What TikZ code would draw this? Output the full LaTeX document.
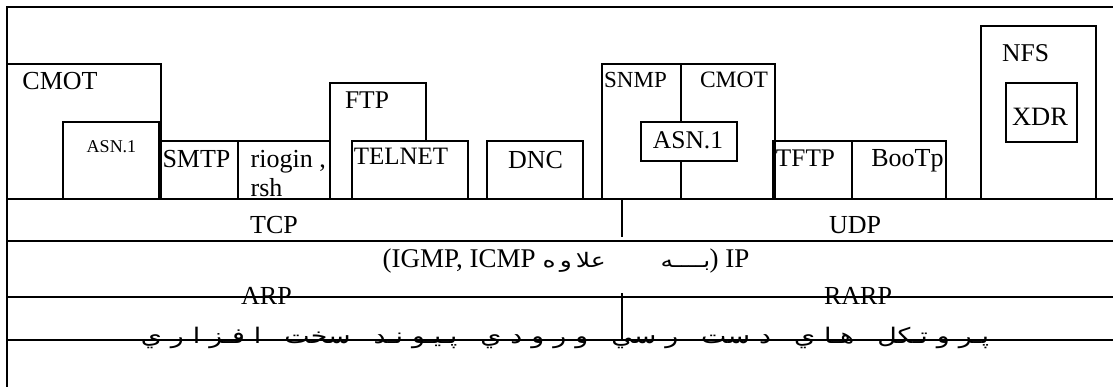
\documentclass[tikz,border=0pt]{standalone}
\usepackage{fontspec}
\setmainfont{Liberation Serif}
\newfontfamily\arabicfont[Script=Arabic,FakeStretch=1.25]{DejaVu Sans}
\TeXXeTstate=1
% gaps used to space out the Persian letters and words
\newcommand{\lgap}{\hspace{9pt}}
\newcommand{\wgap}{\hspace{23pt}}

\begin{document}
\begin{tikzpicture}[x=1pt,y=-1pt,line width=1.3pt,
  layer/.style={draw,line width=1.3pt,outer sep=0pt,inner sep=0pt,anchor=north west},
  lbl/.style={inner sep=0pt,anchor=base,font=\fontsize{#1}{#1}\selectfont},
  fa/.style={inner sep=0pt,anchor=base,font=\arabicfont\fontsize{#1}{#1}\selectfont}]
\useasboundingbox (0,0) rectangle (1113,387);

% outer frame and layer separators
\coordinate (tl) at (7,7);
\coordinate (tr) at (1120,7);
\coordinate (bl) at (7,395);
\draw (tr) -- (tl) -- (bl);
\foreach \yy/\nm in {199/app,241/tcp,297/ip,340/arp}{
  \coordinate (\nm L) at (7,\yy);
  \coordinate (\nm R) at (1120,\yy);
  \draw (\nm L) -- (\nm R);
}

% application layer boxes
\node[layer,minimum width=154,minimum height=135] (cmot) at (7,64) {};
\node[layer,minimum width=96,minimum height=77] (asnA) at (63,122) {};
\node[layer,minimum width=78,minimum height=58] (smtp) at (160,141) {};
\node[layer,minimum width=92,minimum height=58] (rlogin) at (238,141) {};
\node[layer,minimum width=96,minimum height=116] (ftp) at (330,83) {};
\node[layer,fill=white,minimum width=116,minimum height=58] (telnet) at (352,141) {};
\node[layer,minimum width=96,minimum height=58] (dnc) at (487,141) {};
\node[layer,minimum width=173,minimum height=135] (snmp) at (602,64) {};
\coordinate (divT) at (681,64);
\coordinate (divB) at (681,199);
\draw (divT) -- (divB);
\node[layer,fill=white,minimum width=96,minimum height=39] (asnB) at (641,122) {};
\node[layer,minimum width=79,minimum height=58] (tftp) at (773,141) {};
\node[layer,minimum width=94,minimum height=58] (bootp) at (852,141) {};
\node[layer,minimum width=115,minimum height=173] (nfs) at (981,26) {};
\node[layer,minimum width=71,minimum height=59] (xdr) at (1006,83) {};

% TCP / UDP and ARP / RARP dividers
\coordinate (d1a) at (622,199);
\coordinate (d1b) at (622,237);
\coordinate (d2a) at (622,293);
\coordinate (d2b) at (622,341);
\draw (d1a) -- (d1b);
\draw (d2a) -- (d2b);

% labels
\node[lbl=26] (tCmot) at (60,90) {CMOT};
\node[lbl=18] (tAsnA) at (111.5,153) {ASN.1};
\node[lbl=26] (tSmtp) at (196.5,168) {SMTP};
\node[lbl=26,align=left,anchor=base west] (tRlogin) at (250,197) {riogin ,\\[3pt]rsh};
\node[lbl=25.5] (tFtp) at (367,108.5) {FTP};
\node[lbl=25] (tTelnet) at (401,165) {TELNET};
\node[lbl=26] (tDnc) at (535.5,168.5) {DNC};
\node[lbl=23] (tSnmp) at (635.5,87.6) {SNMP};
\node[lbl=23.5] (tCmotB) at (734,88) {CMOT};
\node[lbl=25.5] (tAsnB) at (688,148.4) {ASN.1};
\node[lbl=25.3] (tTftp) at (805.5,166.4) {TFTP};
\node[lbl=26] (tBootp) at (907.5,166.4) {BooTp};
\node[lbl=25.6] (tNfs) at (1025.5,61.4) {NFS};
\node[lbl=26.5] (tXdr) at (1040,125.7) {XDR};

\node[lbl=26] (tTcp) at (274,234) {TCP};
\node[lbl=26] (tUdp) at (855,234) {UDP};

% IP row: Latin and Persian parts set in visual order
\node[lbl=27,anchor=base west] (tIgmp) at (382,268) {(IGMP, ICMP};
\node[fa=20,anchor=base west] (tAlave) at (542,268) {\beginR علا\hspace{4pt}و\hspace{4pt}ه\endR};
\node[fa=20,anchor=base west] (tBe) at (660,268) {\beginR بــــه\endR};
\node[lbl=27,anchor=base west] (tIp) at (709,268) {) IP};

\node[lbl=26] (tArp) at (266.5,305) {ARP};
\node[lbl=26] (tRarp) at (858,305) {RARP};

% network access layer caption
\node[fa=21.5] (tNet) at (565,343) {\beginR پـر\lgap و\lgap تـكل\wgap هـا\lgap ي\wgap د\lgap ست\wgap ر\lgap سي\wgap و\lgap ر\lgap و\lgap د\lgap ي\wgap پـيـو\lgap نـد\wgap سخت\wgap ا\lgap فـز\lgap ا\lgap ر\lgap ي\endR};
\end{tikzpicture}
\end{document}
